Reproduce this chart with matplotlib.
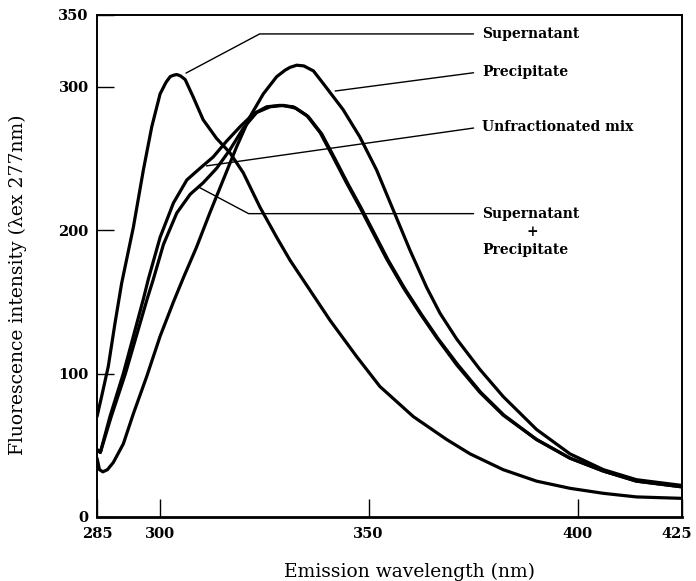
import matplotlib
matplotlib.use("Agg")
import matplotlib.pyplot as plt
import matplotlib.transforms as mtransforms

# ### data (wavelength nm, intensity)
sup_wl = [285, 286.1, 287.7, 289.3, 290.9, 293.7, 296.1, 298.1, 300.1, 301.5, 302.5, 303.3,
          304.1, 305.0, 306.1, 308.0, 310.4, 313.6, 316.8, 320.0, 324.0, 328.0, 331.2,
          334.4, 336.0, 340.8, 347.1, 352.7, 360.7, 368.7, 374.3, 382.2, 390.2, 398.2,
          406.2, 414.1, 425]
sup_int = [70, 84, 105, 135, 163, 202, 242, 272, 295, 303, 307, 308,
           308.5, 307.5, 305, 293, 277, 264, 254, 240, 216, 195, 179,
           165, 158, 137, 112, 91, 70, 54, 44, 33, 25, 20,
           16.5, 14, 13]

pre_wl = [285, 285.6, 286.4, 287.5, 288.9, 291.3, 293.7, 296.9, 300.1, 303.3, 305.7,
          308.8, 312.0, 315.2, 318.4, 321.6, 324.8, 328.0, 330.0, 331.2, 332.8, 334.5,
          336.8, 339.2, 343.9, 347.9, 351.9, 355.9, 359.9, 363.9, 367.1, 371.1, 376.6,
          382.2, 390.2, 398.2, 406.2, 414.1, 425]
pre_int = [41, 33, 31.5, 33, 38, 51, 72, 98, 126, 150, 167,
           188, 212, 235, 258, 279, 295, 307, 311.5, 313.5, 315, 314.5,
           311, 302, 284, 265, 242, 214, 186, 160, 142, 124, 103,
           84, 61, 44, 33, 26, 22]

mix_wl = [285, 285.8, 288.1, 291.3, 293.7, 296.1, 297.3, 300.1, 303.3, 306.5, 309.6,
          312.8, 316.0, 319.2, 322.4, 325.6, 328.8, 332.0, 335.2, 338.4, 341.5,
          344.7, 347.9, 351.1, 354.3, 358.3, 362.3, 366.3, 371.1, 376.6, 382.2,
          390.2, 398.2, 406.2, 414.1, 425]
mix_int = [47, 45, 70, 100, 126, 152, 166, 195, 219, 235, 243,
           251, 262, 272, 281, 286, 287, 286, 280, 268, 251,
           233, 216, 198, 180, 160, 142, 125, 106, 87, 71,
           54, 41, 32, 25, 21]

sp_wl = [285, 285.8, 288.4, 291.8, 294.4, 297.0, 298.4, 300.9, 304.1, 307.3, 310.4,
         313.6, 316.8, 320.0, 323.2, 326.4, 329.6, 332.6, 335.6, 338.8, 341.9,
         345.1, 348.3, 351.5, 354.7, 358.7, 362.7, 366.7, 371.4, 376.8, 382.4,
         390.2, 398.2, 406.2, 414.1, 425]
sp_int = [47, 45, 70, 100, 126, 152, 165, 190, 212, 225, 233,
          243, 256, 271, 282, 286, 287, 285, 279, 267, 250,
          232, 215, 197, 179, 159, 141, 124, 106, 87, 71,
          54, 41, 32, 25, 21]

x_ticks = [285, 300, 350, 400, 425]
y_ticks = [0, 100, 200, 300, 350]

SERIF = "DejaVu Serif"

fig = plt.figure(figsize=(6.96, 5.81), dpi=100)
ax = fig.add_axes([97 / 696, 1 - 517 / 581, 585 / 696, 502 / 581])

for wl, val in [(sup_wl, sup_int), (pre_wl, pre_int), (mix_wl, mix_int), (sp_wl, sp_int)]:
    ax.plot(wl, val, color="black", lw=2.3, solid_capstyle="round", solid_joinstyle="round")

ax.set_xlim(285, 425)
ax.set_ylim(0, 350)
ax.set_xticks(x_ticks)
ax.set_yticks(y_ticks)
ax.set_xticklabels([str(t) for t in x_ticks], family=SERIF, fontweight="bold", fontsize=10.5)
ax.set_yticklabels([str(t) for t in y_ticks], family=SERIF, fontweight="bold", fontsize=10.5)
ax.tick_params(axis="x", direction="in", length=13, width=1, pad=7)
ax.tick_params(axis="y", direction="in", length=12, width=1, pad=6)
for side in ["top", "right", "left"]:
    ax.spines[side].set_linewidth(1.4)
ax.spines["bottom"].set_linewidth(2.0)

# последнюю подпись чуть влево, чтобы не обрезалась
last = ax.get_xticklabels()[-1]
last.set_transform(last.get_transform() + mtransforms.ScaledTranslation(-5 / 100, 0, fig.dpi_scale_trans))

fig.text(409 / 696, 4 / 581, "Emission wavelength (nm)", family=SERIF,
         fontsize=13.5, ha="center", va="baseline")
fig.text(18 / 696, 1 - 285 / 581, "Fluorescence intensity (\u03bbex 277nm)", family=SERIF,
         fontsize=13.5, ha="center", va="center", rotation=90)

# подписи с выносками
lbl = dict(family=SERIF, fontweight="bold", fontsize=10, va="center", ha="left")
ax.annotate("Supernatant", xy=(306.3, 309.5), xytext=(377.1, 336.8), **lbl,
            arrowprops=dict(arrowstyle="-", lw=1, relpos=(0, 0.5), shrinkA=4, shrinkB=0,
                            connectionstyle="angle,angleA=0,angleB=28,rad=0"))
ax.annotate("Precipitate", xy=(342.0, 297), xytext=(377.1, 310.5), **lbl,
            arrowprops=dict(arrowstyle="-", lw=1, relpos=(0, 0.5), shrinkA=4, shrinkB=0))
ax.annotate("Unfractionated mix", xy=(311.2, 244.8), xytext=(377.1, 272), **lbl,
            arrowprops=dict(arrowstyle="-", lw=1, relpos=(0, 0.5), shrinkA=4, shrinkB=0))
ax.annotate("Supernatant", xy=(309.6, 229.6), xytext=(377.1, 211.5), **lbl,
            arrowprops=dict(arrowstyle="-", lw=1, relpos=(0, 0.5), shrinkA=4, shrinkB=0,
                            connectionstyle="angle,angleA=0,angleB=-28,rad=0"))
ax.text(389.1, 199, "+", family=SERIF, fontweight="bold", fontsize=10, ha="center", va="center")
ax.text(377.3, 186.5, "Precipitate", **lbl)

fig.savefig("out.png", dpi=100)
